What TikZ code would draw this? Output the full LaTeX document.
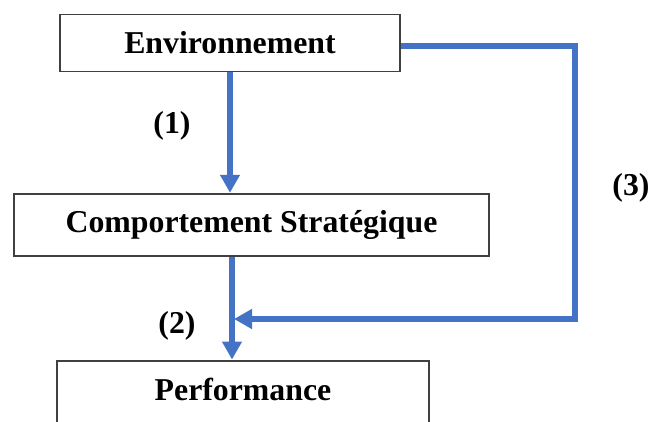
\documentclass[tikz,border=0pt]{standalone}
\usepackage{fontspec}
\setmainfont{Liberation Serif}
\usepackage{tikz}
\usetikzlibrary{arrows.meta,positioning}
\definecolor{linkblue}{HTML}{4472C4}
\definecolor{boxgray}{HTML}{404040}

\begin{document}
\begin{tikzpicture}[x=1pt,y=-1pt,
    link/.style={draw=linkblue,line width=5.5pt,-{Triangle[width=19pt,length=18pt]},shorten >=0.5pt},
    box node/.style={rectangle,draw=boxgray,line width=1.5pt,fill=white,font=\fontsize{31.8}{36}\selectfont\bfseries,inner sep=0pt},
    num node/.style={font=\fontsize{31.8}{36}\selectfont\bfseries,inner sep=0pt}]

  \clip (0,0) rectangle (651,421);
  \fill[white] (0,0) rectangle (651,421);

  \node[box node,minimum width=340pt,minimum height=57pt] (env)  at (230,43)    {Environnement};
  \node[box node,minimum width=475pt,minimum height=62pt] (comp) at (251.5,225) {Comportement Strat\'egique};
  \node[box node,minimum width=372pt,minimum height=90pt,anchor=north] (perf) at (243,360) {};
  \node[num node]               (perftxt) at (243,389) {Performance};

  \node[num node]               (one)   at (172,126) {(1)};
  \node[num node]               (two)   at (177,326) {(2)};
  \node[num node]               (three) at (631,188) {(3)};

  \coordinate (corner1) at (575,46);
  \coordinate (corner2) at (575,319);

  \path[link] (env.south) -- (env.south |- comp.north);
  \path[link] (comp.south -| 232,0) -- (perf.north -| 232,0);
  \path[link,-] (env.east |- corner1) -- (corner1) -- (corner2) -- (corner2 -| 245,0);
  \path[link,shorten >=0pt] (corner2 -| 252,0) -- (corner2 -| 234,0);

\end{tikzpicture}
\end{document}
